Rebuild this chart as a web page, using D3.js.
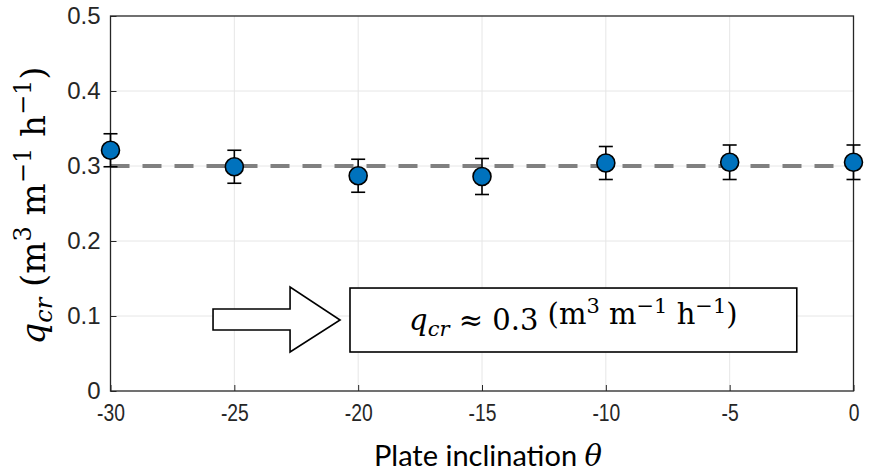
<!DOCTYPE html>
<html>
<head>
<meta charset="utf-8">
<script src="https://cdn.jsdelivr.net/npm/d3@7"></script>
<style>
  html, body { margin: 0; padding: 0; background: #fff; }
  svg { display: block; }
</style>
</head>
<body>
<svg id="chart" width="872" height="474"></svg>
<script>
// Plate inclination (degrees) and critical flow rate with its uncertainty
const inclination = [-30, -25, -20, -15, -10, -5, 0];
const qcr = [0.321, 0.299, 0.287, 0.286, 0.304, 0.305, 0.305];
const qcrErr = [0.022, 0.022, 0.022, 0.024, 0.022, 0.023, 0.023];
const qcrMean = 0.3;

const xTicks = [-30, -25, -20, -15, -10, -5, 0];
const yTicks = [0, 0.1, 0.2, 0.3, 0.4, 0.5];

const svg = d3.select("#chart");
const W = 872, H = 474;
const m = { left: 110.5, right: W - 853.5, top: 16, bottom: H - 391 };

const x = d3.scaleLinear().domain([-30, 0]).range([m.left, W - m.right]);
const y = d3.scaleLinear().domain([0, 0.5]).range([H - m.bottom, m.top]);

svg.append("rect").attr("width", W).attr("height", H).attr("fill", "#fff");

// grid
const grid = svg.append("g").attr("stroke", "#e6e6e6").attr("stroke-width", 1);
grid.selectAll("line.gx").data(xTicks.slice(1, -1)).join("line")
  .attr("x1", d => x(d)).attr("x2", d => x(d))
  .attr("y1", y(0)).attr("y2", y(0.5));
grid.selectAll("line.gy").data(yTicks.slice(1, -1)).join("line")
  .attr("x1", x(-30)).attr("x2", x(0))
  .attr("y1", d => y(d)).attr("y2", d => y(d));

// mean value reference line
svg.append("line")
  .attr("x1", x(-30)).attr("x2", x(0))
  .attr("y1", y(qcrMean)).attr("y2", y(qcrMean))
  .attr("stroke", "#808080").attr("stroke-width", 4)
  .attr("stroke-dasharray", "19 13");

// axes
const tickFont = "'Liberation Sans', Arial, Helvetica, sans-serif";
const xAxis = d3.axisBottom(x).tickValues(xTicks).tickSize(-6).tickPadding(14)
  .tickFormat(d => String(d));
const yAxis = d3.axisLeft(y).tickValues(yTicks).tickSize(-6).tickPadding(10)
  .tickFormat(d => d === 0 ? "0" : d3.format(".1f")(d));

const gx = svg.append("g").attr("transform", `translate(0,${y(0)})`).call(xAxis);
const gy = svg.append("g").attr("transform", `translate(${x(-30)},0)`).call(yAxis);
[gx, gy].forEach(g => {
  g.attr("font-family", tickFont);
  g.select(".domain").remove();
  g.selectAll(".tick line").attr("stroke", "#262626").attr("stroke-width", 1);
  g.selectAll(".tick text").attr("fill", "#262626").attr("font-family", tickFont);
});
// x tick labels use a slightly condensed face
gx.selectAll(".tick text").attr("font-size", 23).attr("transform", "scale(0.84,1)");
gy.selectAll(".tick text").attr("font-size", 24);

// frame
svg.append("rect")
  .attr("x", x(-30)).attr("y", y(0.5))
  .attr("width", x(0) - x(-30)).attr("height", y(0) - y(0.5))
  .attr("fill", "none").attr("stroke", "#262626").attr("stroke-width", 1.3);

// error bars
const pts = inclination.map((d, i) => ({ x: d, y: qcr[i], e: qcrErr[i] }));
const eb = svg.append("g").attr("stroke", "#000").attr("stroke-width", 1.6);
const cap = 7;
eb.selectAll("line.v").data(pts).join("line")
  .attr("x1", d => x(d.x)).attr("x2", d => x(d.x))
  .attr("y1", d => y(d.y - d.e)).attr("y2", d => y(d.y + d.e));
eb.selectAll("line.t").data(pts).join("line")
  .attr("x1", d => x(d.x) - cap).attr("x2", d => x(d.x) + cap)
  .attr("y1", d => y(d.y + d.e)).attr("y2", d => y(d.y + d.e));
eb.selectAll("line.b").data(pts).join("line")
  .attr("x1", d => x(d.x) - cap).attr("x2", d => x(d.x) + cap)
  .attr("y1", d => y(d.y - d.e)).attr("y2", d => y(d.y - d.e));

// markers
svg.append("g").selectAll("circle").data(pts).join("circle")
  .attr("cx", d => x(d.x)).attr("cy", d => y(d.y)).attr("r", 9)
  .attr("fill", "#0072BD").attr("stroke", "#000").attr("stroke-width", 1.6);

// annotation: block arrow pointing to the summary box
const ax0 = x(-25.86), ax1 = x(-22.75), ax2 = x(-20.73);
const sT = y(0.1093), sB = y(0.0813), hT = y(0.1387), hB = y(0.052), tip = y(0.0947);
svg.append("path")
  .attr("d", `M${ax0},${sT}L${ax1},${sT}L${ax1},${hT}L${ax2},${tip}L${ax1},${hB}L${ax1},${sB}L${ax0},${sB}Z`)
  .attr("fill", "#fff").attr("stroke", "#000").attr("stroke-width", 1.6);

const bx0 = x(-20.33), bx1 = x(-2.29), by0 = y(0.1373), by1 = y(0.052);
svg.append("rect")
  .attr("x", bx0).attr("y", by0).attr("width", bx1 - bx0).attr("height", by1 - by0)
  .attr("fill", "#fff").attr("stroke", "#000").attr("stroke-width", 1.6);

const serif = "'DejaVu Serif', 'Liberation Serif', serif";
function mathLabel(t, size) {
  t.attr("font-family", serif).attr("font-size", size).attr("fill", "#000");
  const sup = Math.round(size * 0.72);
  t.append("tspan").attr("font-style", "italic").text("q");
  t.append("tspan").attr("font-style", "italic").attr("font-size", sup).attr("dy", size * 0.2).text("cr");
  return { sup };
}
function units(t, size, sup) {
  t.append("tspan").attr("dy", -size * 0.2).text(" (m");
  t.append("tspan").attr("font-size", sup).attr("dy", -size * 0.4).text("3");
  t.append("tspan").attr("dy", size * 0.4).text(" m");
  t.append("tspan").attr("font-size", sup).attr("dy", -size * 0.4).text("\u22121");
  t.append("tspan").attr("dy", size * 0.4).text(" h");
  t.append("tspan").attr("font-size", sup).attr("dy", -size * 0.4).text("\u22121");
  t.append("tspan").attr("dy", size * 0.4).text(")");
}

// summary text in the box
const bt = svg.append("text")
  .attr("x", (bx0 + bx1) / 2).attr("y", (by0 + by1) / 2 + 10)
  .attr("text-anchor", "middle");
const b = mathLabel(bt, 29);
bt.append("tspan").attr("dy", -29 * 0.2).text(" \u2248 0.3");
units(bt, 29, b.sup);

// y-axis title
const yt = svg.append("text")
  .attr("transform", `translate(45,${(y(0) + y(0.5)) / 2 + 2}) rotate(-90)`)
  .attr("text-anchor", "middle");
const yl = mathLabel(yt, 34);
units(yt, 34, yl.sup);

// x-axis title
const xt = svg.append("text")
  .attr("x", 488).attr("y", 466).attr("text-anchor", "middle")
  .attr("font-family", "Lato, 'Open Sans', sans-serif").attr("font-size", 29)
  .attr("fill", "#000");
xt.append("tspan").text("Plate inclination ");
xt.append("tspan").attr("font-family", serif).attr("font-style", "italic").text("\u03b8");
</script>
</body>
</html>
